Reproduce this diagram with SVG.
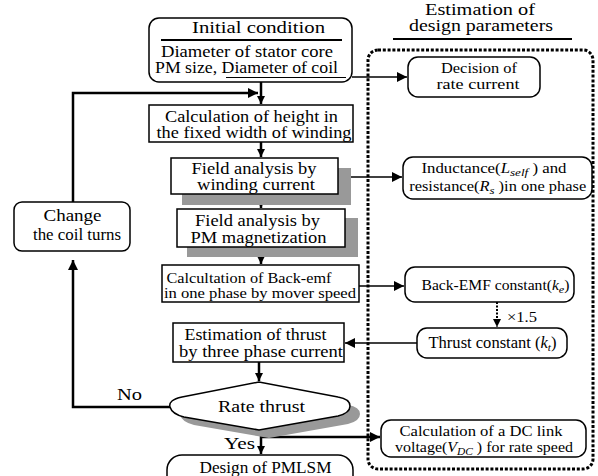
<svg xmlns="http://www.w3.org/2000/svg" width="598" height="476" viewBox="0 0 598 476">
<defs>
<marker id="ah" viewBox="0 0 10 10" refX="10" refY="5" markerWidth="10" markerHeight="8" markerUnits="userSpaceOnUse" orient="auto"><path d="M0,0 L10,5 L0,10 Z" fill="#000"/></marker>
<marker id="ahb" viewBox="0 0 10 10" refX="10" refY="5" markerWidth="16" markerHeight="10" markerUnits="userSpaceOnUse" orient="auto"><path d="M0,0 L10,5 L0,10 Z" fill="#000"/></marker>
</defs>
<style>
text{fill:#000;font-size:16px;font-family:"Liberation Serif","Times New Roman",serif}
.m{text-anchor:middle}
.s{font-size:14px}
.box{fill:#fff;stroke:#000;stroke-width:1.5}
.sh{fill:#999;stroke:none}
.thick{fill:none;stroke:#000;stroke-width:2.5}
.thin{fill:none;stroke:#000;stroke-width:1.5}
.ul{stroke:#000;stroke-width:2}
</style>
<rect width="598" height="476" fill="#fff"/>

<g id="param-frame">
<rect x="368" y="50" width="225" height="419" rx="10" fill="none" stroke="#000" stroke-width="3" stroke-dasharray="3,1.8"/>
<text class="m" x="480" y="15" textLength="110" lengthAdjust="spacingAndGlyphs">Estimation of</text>
<text class="m" x="481" y="31" textLength="144" lengthAdjust="spacingAndGlyphs">design parameters</text>
<line class="ul" x1="393" y1="39" x2="572" y2="39"/>
</g>

<g id="connectors">
<line class="thick" x1="261" y1="82" x2="261" y2="104" marker-end="url(#ah)"/>
<polyline class="thick" points="73,202 73,93 258,93" marker-end="url(#ahb)"/>
<line class="thin" x1="352" y1="77" x2="407" y2="77" marker-end="url(#ahb)"/>
<line class="thick" x1="261" y1="142" x2="261" y2="157" marker-end="url(#ah)"/>
<line class="thin" x1="338" y1="177" x2="402" y2="177" marker-end="url(#ahb)"/>
<line class="thick" x1="261" y1="194" x2="261" y2="208" marker-end="url(#ah)"/>
<line class="thick" x1="261" y1="247" x2="261" y2="264" marker-end="url(#ah)"/>
<line class="thin" x1="359" y1="286" x2="404" y2="286" marker-end="url(#ahb)"/>
<line fill="none" stroke="#000" stroke-width="2" stroke-dasharray="2,1.5" x1="497" y1="302" x2="497" y2="327" marker-end="url(#ah)"/>
<line class="thin" x1="417" y1="343" x2="345" y2="343" marker-end="url(#ahb)"/>
<line class="thick" x1="259" y1="362" x2="259" y2="381" marker-end="url(#ah)"/>
<polyline class="thick" points="170,407 73,407 73,260" marker-end="url(#ahb)"/>
<line class="thick" x1="261" y1="430" x2="261" y2="454" marker-end="url(#ah)"/>
<polyline class="thick" points="261,437 380,437" marker-end="url(#ahb)"/>
<text x="117" y="400" textLength="25" lengthAdjust="spacingAndGlyphs">No</text>
<text x="224" y="449" textLength="31" lengthAdjust="spacingAndGlyphs">Yes</text>
<text x="507" y="322" class="s" textLength="30" lengthAdjust="spacingAndGlyphs">×1.5</text>
</g>

<g id="initial">
<rect class="box" x="149" y="18" width="203" height="64" rx="10"/>
<text class="m" x="258.5" y="33" textLength="133" lengthAdjust="spacingAndGlyphs">Initial condition</text>
<line class="ul" x1="161" y1="40" x2="342" y2="40"/>
<text class="m" x="247" y="57" textLength="172" lengthAdjust="spacingAndGlyphs">Diameter of stator core</text>
<text class="m" x="246.5" y="73" textLength="183" lengthAdjust="spacingAndGlyphs">PM size, Diameter of coil</text>
<line x1="226" y1="77.5" x2="346" y2="77.5" stroke="#000" stroke-width="1.2"/>
</g>

<g id="calc-height">
<rect class="box" x="149" y="105" width="204" height="37"/>
<text class="m" x="251.5" y="122" textLength="173" lengthAdjust="spacingAndGlyphs">Calculation of height  in</text>
<text class="m" x="254" y="138" textLength="195" lengthAdjust="spacingAndGlyphs">the fixed width of winding</text>
</g>

<g id="field-winding">
<rect class="sh" x="182" y="168" width="169" height="37"/>
<rect class="box" x="171" y="158" width="167" height="36"/>
<text class="m" x="254" y="174" textLength="125" lengthAdjust="spacingAndGlyphs">Field analysis by</text>
<text class="m" x="256" y="190" textLength="118" lengthAdjust="spacingAndGlyphs">winding current</text>
</g>

<g id="field-pm">
<rect class="sh" x="187" y="218" width="171" height="39"/>
<rect class="box" x="177" y="209" width="168" height="38"/>
<text class="m" x="257.5" y="226" textLength="125" lengthAdjust="spacingAndGlyphs">Field analysis by</text>
<text class="m" x="258.5" y="243" textLength="136" lengthAdjust="spacingAndGlyphs">PM magnetization</text>
</g>

<g id="backemf">
<rect class="box" x="162" y="265" width="197" height="37"/>
<text class="s" x="166.5" y="283" textLength="165" lengthAdjust="spacingAndGlyphs">Calcultation of Back-emf</text>
<text class="s" x="164" y="298" textLength="192" lengthAdjust="spacingAndGlyphs">in one phase by mover speed</text>
</g>

<g id="est-thrust">
<rect class="box" x="173" y="323" width="171" height="39"/>
<text class="m" x="255.5" y="340" textLength="142" lengthAdjust="spacingAndGlyphs">Estimation of thrust</text>
<text class="m" x="261" y="357" textLength="164" lengthAdjust="spacingAndGlyphs">by three phase current</text>
</g>

<g id="rate-thrust">
<path class="sh" d="M269,390 L192,405 Q178,408 180,415 Q182,422 194,425 L269,438 L348,424 Q360,421 360,414 Q360,407 348,405 Z"/>
<path class="box" d="M259,382 L182,397 Q168,400 170,407 Q172,414 184,417 L259,430 L338,416 Q350,413 350,406 Q350,399 338,397 Z"/>
<text class="m" x="261.5" y="412" textLength="87" lengthAdjust="spacingAndGlyphs">Rate thrust</text>
</g>

<g id="design">
<rect class="box" x="167" y="455" width="186" height="40" rx="15"/>
<text class="m" x="265.5" y="473" textLength="132" lengthAdjust="spacingAndGlyphs">Design of PMLSM</text>
</g>

<g id="change">
<rect class="box" x="14" y="202" width="116" height="49" rx="8"/>
<text class="m" x="72.5" y="221" textLength="58" lengthAdjust="spacingAndGlyphs">Change</text>
<text class="m" x="77" y="240" textLength="88" lengthAdjust="spacingAndGlyphs">the coil turns</text>
</g>

<g id="decision">
<rect class="box" x="408" y="57" width="132" height="40" rx="10"/>
<text class="m s" x="479" y="73" textLength="76" lengthAdjust="spacingAndGlyphs">Decision of</text>
<text class="m s" x="478" y="89" textLength="83" lengthAdjust="spacingAndGlyphs">rate current</text>
</g>

<g id="inductance">
<rect class="box" x="403" y="157" width="189" height="42" rx="10"/>
<text class="m s" x="494" y="173" textLength="145" lengthAdjust="spacingAndGlyphs">Inductance(<tspan font-style="italic">L</tspan><tspan font-style="italic" font-size="11" dy="3">self</tspan><tspan dy="-3"> ) and</tspan></text>
<text class="m s" x="497.7" y="191" textLength="177" lengthAdjust="spacingAndGlyphs">resistance(<tspan font-style="italic">R</tspan><tspan font-style="italic" font-size="11" dy="3">s</tspan><tspan dy="-3"> )in one phase</tspan></text>
</g>

<g id="backemf-const">
<rect class="box" x="405" y="267" width="169" height="35" rx="10"/>
<text class="m s" x="495.5" y="290" textLength="148" lengthAdjust="spacingAndGlyphs">Back-EMF constant(<tspan font-style="italic">k</tspan><tspan font-style="italic" font-size="11" dy="3">e</tspan><tspan dy="-3">)</tspan></text>
</g>

<g id="thrust-const">
<rect class="box" x="417" y="328" width="150" height="30" rx="10"/>
<text class="m" x="492.5" y="348" font-size="15" textLength="128" lengthAdjust="spacingAndGlyphs">Thrust constant (<tspan font-style="italic">k</tspan><tspan font-style="italic" font-size="11" dy="3">t</tspan><tspan dy="-3">)</tspan></text>
</g>

<g id="dc-link">
<rect class="box" x="381" y="420" width="205" height="37" rx="10"/>
<text class="m s" x="481" y="436" textLength="163" lengthAdjust="spacingAndGlyphs">Calculation of  a DC link</text>
<text class="m s" x="484" y="452" textLength="178" lengthAdjust="spacingAndGlyphs">voltage(<tspan font-style="italic">V</tspan><tspan font-style="italic" font-size="10" dy="3">DC</tspan><tspan dy="-3"> ) for rate speed</tspan></text>
</g>
</svg>
